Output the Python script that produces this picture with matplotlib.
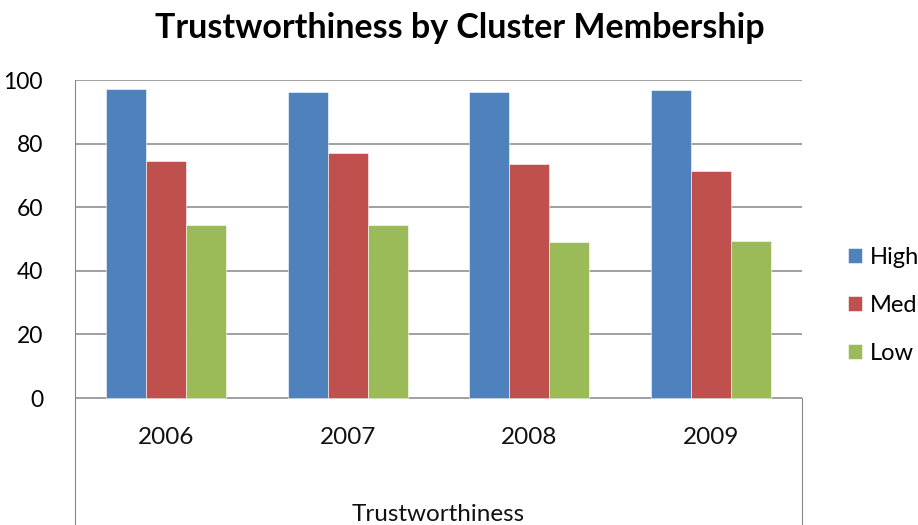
import matplotlib
matplotlib.use("Agg")
import matplotlib.pyplot as plt
import numpy as np

years = ["2006", "2007", "2008", "2009"]
high = [97.2, 96.3, 96.3, 96.8]
med = [74.5, 77.0, 73.6, 71.4]
low = [54.4, 54.4, 49.0, 49.4]
series_names = ["High", "Med", "Low"]
colors = ["#4F81BD", "#C0504D", "#9BBB59"]

plt.rcParams['font.family'] = ['Lato', 'DejaVu Sans']

fig = plt.figure(figsize=(9.18, 5.25), dpi=100)
# axes spans from the 100 gridline down to the bottom edge of the image
ax = fig.add_axes([75/918, 0, (802-75)/918, (525-80)/525])
ax.set_ylim(-39.9, 100)
ax.set_xlim(-0.5, 3.5)

x = np.arange(len(years))
w = 0.22
for i, (vals, name) in enumerate(zip([high, med, low], series_names)):
    ax.bar(x + (i - 1) * w, vals, w, color=colors[i], label=name,
           edgecolor='white', linewidth=0.4, zorder=3)

for v in range(0, 101, 20):
    ax.axhline(v, color='#868686', lw=1.1, zorder=1)

ax.set_yticks(range(0, 101, 20))
ax.set_yticklabels([str(v) for v in range(0, 101, 20)], fontsize=16.5)
ax.tick_params(axis='y', length=0, pad=23)
ax.set_xticks([])

for xi, yr in zip(x, years):
    ax.text(xi, -12.5, yr, ha='center', va='center', fontsize=17.5, color='#111111')
ax.text(1.5, -36.5, "Trustworthiness", ha='center', va='center', fontsize=17.5, color='#111111')

for s in ['top', 'bottom']:
    ax.spines[s].set_visible(False)
ax.spines['left'].set_color('#868686')
ax.spines['right'].set_color('#868686')
ax.spines['right'].set_bounds(-40, 0)

fig.text(460/918, 1 - 28/525, "Trustworthiness by Cluster Membership",
         ha='center', va='center', fontsize=24.5, fontweight='bold')

fig.legend(loc='upper left', bbox_to_anchor=(836/918, 1 - 235/525), frameon=False,
           fontsize=17, handlelength=0.6, handleheight=0.6, handletextpad=0.35,
           labelspacing=1.15, borderpad=0)

fig.savefig("out.png", dpi=100, facecolor='white')
